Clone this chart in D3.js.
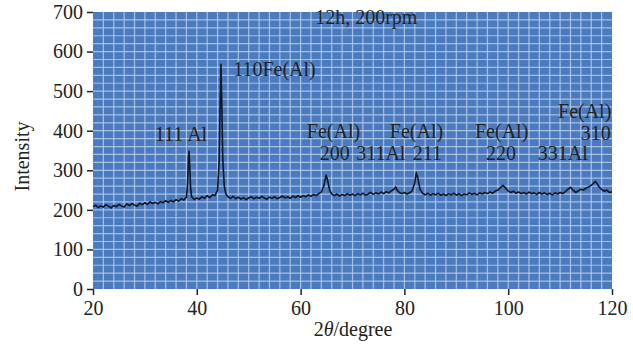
<!DOCTYPE html>
<html>
<head>
<meta charset="utf-8">
<script src="https://cdn.jsdelivr.net/npm/d3@7"></script>
<style>
  body { margin: 0; background: #fff; }
  text { font-family: "Liberation Serif", "DejaVu Serif", serif; fill: #222; }
</style>
</head>
<body>
<svg id="chart" width="633" height="349"></svg>
<script>
const angle = [
  20, 20.5, 21, 21.5, 22, 22.5, 23, 23.5, 24, 24.5, 25, 25.5, 26, 26.5, 27, 27.5, 28, 28.5, 29, 29.5,
  30, 30.5, 31, 31.5, 32, 32.5, 33, 33.5, 34, 34.5, 35, 35.5, 36, 36.5, 37, 37.5, 38, 38.2, 38.4, 38.5,
  38.6, 38.8, 39, 39.5, 40, 40.5, 41, 41.5, 42, 42.5, 43, 43.5, 44, 44.3, 44.5, 44.65, 44.8, 45, 45.3, 45.6,
  46, 46.5, 47, 47.5, 48, 48.5, 49, 49.5, 50, 50.5, 51, 51.5, 52, 52.5, 53, 53.5, 54, 54.5, 55, 55.5,
  56, 56.5, 57, 57.5, 58, 58.5, 59, 59.5, 60, 60.5, 61, 61.5, 62, 62.5, 63, 63.5, 64, 64.5, 64.9, 65.2,
  65.6, 66, 66.5, 67, 67.5, 68, 68.5, 69, 69.5, 70, 70.5, 71, 71.5, 72, 72.5, 73, 73.5, 74, 74.5, 75,
  75.5, 76, 76.5, 77, 77.5, 78, 78.3, 78.6, 79, 79.5, 80, 80.5, 81, 81.5, 82, 82.3, 82.6, 83, 83.5, 84,
  84.5, 85, 85.5, 86, 86.5, 87, 87.5, 88, 88.5, 89, 89.5, 90, 90.5, 91, 91.5, 92, 92.5, 93, 93.5, 94,
  94.5, 95, 95.5, 96, 96.5, 97, 97.5, 98, 98.5, 99, 99.5, 100, 100.5, 101, 101.5, 102, 102.5, 103, 103.5, 104,
  104.5, 105, 105.5, 106, 106.5, 107, 107.5, 108, 108.5, 109, 109.5, 110, 110.5, 111, 111.5, 112, 112.5, 113, 113.5, 114,
  114.5, 115, 115.5, 116, 116.5, 116.8, 117.2, 117.5, 118, 118.5, 119, 119.5, 120
];
const intensity = [
  208, 212, 206, 210, 207, 213, 209, 205, 211, 208, 214, 210, 207, 215, 211, 216, 212, 209, 217, 213,
  218, 214, 220, 216, 219, 215, 221, 218, 223, 219, 224, 220, 226, 222, 228, 225, 232, 262, 330, 348,
  322, 256, 233, 226, 230, 227, 233, 229, 236, 231, 238, 236, 250, 320, 470, 568, 480, 330, 260, 240,
  233, 229, 234, 228, 232, 227, 231, 226, 230, 233, 228, 232, 229, 234, 230, 227, 232, 229, 233, 228,
  231, 235, 230, 233, 229, 235, 231, 236, 232, 236, 233, 238, 234, 239, 236, 241, 245, 262, 288, 275,
  250, 240, 236, 240, 235, 239, 236, 241, 237, 240, 236, 241, 238, 242, 237, 240, 244, 239, 243, 240,
  245, 241, 246, 243, 248, 252, 258, 250, 244, 241, 244, 240, 243, 248, 268, 294, 280, 252, 242, 238,
  242, 237, 241, 238, 242, 237, 240, 236, 241, 238, 242, 237, 241, 236, 240, 238, 243, 239, 242, 238,
  243, 240, 244, 241, 245, 242, 247, 250, 256, 262, 255, 248, 244, 247, 242, 245, 241, 244, 240, 245,
  241, 243, 239, 244, 240, 243, 239, 242, 238, 243, 240, 244, 241, 246, 252, 257, 250, 244, 248, 252,
  250, 255, 258, 262, 268, 272, 265, 258, 252, 247, 250, 244, 246
];

const xTicks = [20, 40, 60, 80, 100, 120];
const yTicks = [0, 100, 200, 300, 400, 500, 600, 700];

// annotation texts and their anchor (degree, intensity) of the text's left baseline
const labelText = ["12h, 200rpm", "111 Al", "110Fe(Al)", "Fe(Al)", "200", "311Al", "Fe(Al)", "211",
  "Fe(Al)", "220", "331Al", "Fe(Al)", "310"];
const labelAngle = [62.8, 31.9, 47.0, 61.2, 63.7, 70.7, 77.2, 81.6, 93.6, 95.7, 105.7, 109.6, 114.0];
const labelLevel = [670, 374, 538, 382, 326, 326, 382, 326, 382, 326, 326, 432, 376];

const svg = d3.select('#chart');
const margin = { left: 93, right: 21, top: 12, bottom: 60 };
const W = 633, H = 349;

const x = d3.scaleLinear().domain([20, 120]).range([margin.left, W - margin.right]);
const y = d3.scaleLinear().domain([0, 700]).range([H - margin.bottom, margin.top]);

// blue plot background
svg.append('rect')
  .attr('x', x(20)).attr('y', y(700))
  .attr('width', x(120) - x(20)).attr('height', y(0) - y(700))
  .attr('fill', '#4b7bbf');

// fine white grid
const grid = svg.append('g').attr('stroke', '#c4d5ee').attr('stroke-opacity', 0.75).attr('stroke-width', 1.2);
grid.selectAll('line.v')
  .data(d3.range(22, 120, 2))
  .join('line').attr('class', 'v')
  .attr('x1', d => x(d)).attr('x2', d => x(d))
  .attr('y1', y(700)).attr('y2', y(0));
grid.selectAll('line.h')
  .data(d3.range(20, 700, 20))
  .join('line').attr('class', 'h')
  .attr('x1', x(20)).attr('x2', x(120))
  .attr('y1', d => y(d)).attr('y2', d => y(d));

// the pattern
const line = d3.line()
  .x((d, i) => x(angle[i]))
  .y(d => y(d));
svg.append('path')
  .datum(intensity)
  .attr('d', line)
  .attr('fill', 'none')
  .attr('stroke', '#0d1626')
  .attr('stroke-width', 1.6)
  .attr('stroke-linejoin', 'round');

// axes
const xAxis = svg.append('g')
  .attr('transform', `translate(0,${y(0)})`)
  .call(d3.axisBottom(x).tickValues(xTicks).tickSize(6).tickPadding(6));
const yAxis = svg.append('g')
  .attr('transform', `translate(${x(20)},0)`)
  .call(d3.axisLeft(y).tickValues(yTicks).tickSize(6).tickPadding(4));
[xAxis, yAxis].forEach(g => {
  g.select('.domain').remove();
  g.selectAll('.tick line').attr('stroke', '#222').attr('stroke-width', 1.5);
  g.selectAll('.tick text')
    .attr('font-family', '"Liberation Serif", serif')
    .attr('font-size', 20)
    .attr('fill', '#222');
});

// axis titles
svg.append('text')
  .attr('transform', `translate(29,${(y(0) + y(700)) / 2 + 6}) rotate(-90)`)
  .attr('text-anchor', 'middle')
  .attr('font-size', 20)
  .text('Intensity');

const xt = svg.append('text')
  .attr('x', 353).attr('y', 336)
  .attr('text-anchor', 'middle')
  .attr('font-size', 20);
xt.append('tspan').text('2');
xt.append('tspan').attr('font-style', 'italic').text('θ');
xt.append('tspan').text('/degree');

// annotations
svg.append('g')
  .selectAll('text')
  .data(labelText)
  .join('text')
  .attr('x', (d, i) => x(labelAngle[i]))
  .attr('y', (d, i) => y(labelLevel[i]))
  .attr('font-size', 20)
  .attr('fill', '#1a1f2a')
  .text(d => d);
</script>
</body>
</html>
